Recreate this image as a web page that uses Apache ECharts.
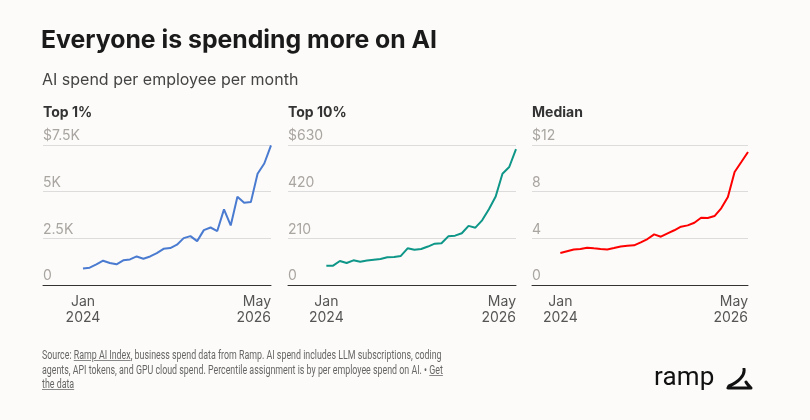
<!DOCTYPE html>
<html>
<head>
<meta charset="utf-8">
<script src="https://cdn.jsdelivr.net/npm/echarts@6/dist/echarts.min.js"></script>
<style>
  html, body { margin: 0; padding: 0; background: #fcfbf9; }
  #chart { width: 810px; height: 420px; position: absolute; left: 0; top: 0; }
  #foot {
    position: absolute; left: 42px; top: 348px; width: 800px;
    font-family: "Roboto", sans-serif;
    font-size: 12px; line-height: 14.5px; color: #666; white-space: nowrap;
    transform: scaleX(0.737); transform-origin: 0 0;
  }
  #foot u { text-decoration-color: #888; }
  #logo {
    position: absolute; left: 654px; top: 361px;
    font-family: "Roboto", sans-serif; font-size: 26px; color: #111;
    letter-spacing: 0.2px;
  }
  #logo svg { position: absolute; left: 71px; top: 7px; }
</style>
</head>
<body>
<div id="chart"></div>
<div id="foot">Source: <u>Ramp AI Index</u>, business spend data from Ramp. AI spend includes LLM subscriptions, coding<br>agents, API tokens, and GPU cloud spend. Percentile assignment is by per employee spend on AI. &bull; <u>Get</u><br><u>the data</u></div>
<div id="logo">ramp<svg width="28" height="22" viewBox="0 0 28 22">
  <path d="M19 1 C20 7 14 14 4 18 L3 20 L26 20 C24 18 22 16 21 14" fill="none" stroke="#111" stroke-width="3" stroke-linecap="round" stroke-linejoin="round"/>
</svg></div>
<script>
'use strict';

// Jan 2024 .. May 2026, one point per month
var months = ['Jan 2024','Feb 2024','Mar 2024','Apr 2024','May 2024','Jun 2024','Jul 2024','Aug 2024',
  'Sep 2024','Oct 2024','Nov 2024','Dec 2024','Jan 2025','Feb 2025','Mar 2025','Apr 2025','May 2025',
  'Jun 2025','Jul 2025','Aug 2025','Sep 2025','Oct 2025','Nov 2025','Dec 2025','Jan 2026','Feb 2026',
  'Mar 2026','Apr 2026','May 2026'];

var top1 = [890, 930, 1100, 1300, 1180, 1110, 1320, 1370, 1530, 1410, 1530, 1710, 1940, 1980, 2160,
  2510, 2620, 2350, 2940, 3080, 2890, 4050, 3190, 4730, 4410, 4440, 5960, 6510, 7480];
var top10 = [87, 87, 108, 99, 111, 105, 110, 114, 117, 125, 126, 131, 165, 159, 162, 173, 186, 188,
  219, 222, 233, 266, 258, 291, 341, 398, 501, 531, 611];
var median = [2.75, 2.9, 3.05, 3.08, 3.2, 3.14, 3.09, 3.05, 3.17, 3.3, 3.37, 3.4, 3.66, 3.94, 4.34,
  4.14, 4.43, 4.69, 5.0, 5.11, 5.34, 5.77, 5.74, 5.91, 6.57, 7.54, 9.69, 10.54, 11.4];

var panelTitles = ['Top 1%', 'Top 10%', 'Median'];
var yTicks = [
  ['0', '2.5K', '5K', '$7.5K'],
  ['0', '210', '420', '$630'],
  ['0', '4', '8', '$12']
];
var yMax = [7500, 630, 12];
var colors = ['#4a7bd0', '#0e9688', '#ff0000'];
var series = [top1, top10, median];

// panel geometry
var grids = [
  { left: 43, width: 228, top: 145, height: 140, xMin: -5.95 },
  { left: 288, width: 228, top: 145, height: 140, xMin: -5.66 },
  { left: 532, width: 216, top: 145, height: 140, xMin: -4.23 }
];

var chart = echarts.init(document.getElementById('chart'), null, { renderer: 'canvas' });

function xLabel(v) {
  var m = months[Math.round(v)];
  if (!m) return '';
  var p = m.split(' ');
  return p[0] + '\n' + p[1];
}

var option = {
  backgroundColor: '#fcfbf9',
  animation: false,
  textStyle: { fontFamily: 'Inter, Roboto, sans-serif' },
  title: [
    { text: 'Everyone is spending more on AI', left: 41, top: 28, padding: 0,
      textStyle: { fontSize: 24.8, fontWeight: 'bold', color: '#1a1a1a', fontFamily: 'Inter' } },
    { text: 'AI spend per employee per month', left: 42, top: 72, padding: 0,
      textStyle: { fontSize: 16, fontWeight: 'normal', color: '#444', fontFamily: 'Inter' } }
  ].concat(panelTitles.map(function (t, i) {
    return { text: t, left: grids[i].left, top: 106, padding: 0,
      textStyle: { fontSize: 14, fontWeight: 'bold', color: '#333', fontFamily: 'Inter' } };
  })),
  grid: grids.map(function (g) {
    return { left: g.left, width: g.width, top: g.top, height: g.height, containLabel: false };
  }),
  xAxis: grids.map(function (g, i) {
    return {
      type: 'value', gridIndex: i, min: g.xMin, max: months.length - 1,
      axisLine: { show: true, onZero: false, lineStyle: { color: '#333', width: 1 } },
      axisTick: { show: false },
      splitLine: { show: false },
      axisLabel: {
        customValues: [0, months.length - 1],
        formatter: xLabel,
        color: '#555', fontSize: 14, lineHeight: 16, margin: 9,
        alignMaxLabel: 'right', fontFamily: 'Inter'
      }
    };
  }),
  yAxis: grids.map(function (g, i) {
    return {
      type: 'value', gridIndex: i, min: 0, max: yMax[i], interval: yMax[i] / 3,
      axisLine: { show: false }, axisTick: { show: false },
      splitLine: { lineStyle: { color: '#dcdcdc', width: 1 } },
      axisLabel: {
        inside: true, margin: 0, align: 'left', verticalAlign: 'bottom',
        padding: [0, 0, 2, 0],
        color: '#a9a5a1', fontSize: 14, fontFamily: 'Inter',
        formatter: function (v) {
          var k = Math.round(v / (yMax[i] / 3));
          return yTicks[i][k];
        }
      }
    };
  }),
  series: series.map(function (vals, i) {
    return {
      type: 'line', xAxisIndex: i, yAxisIndex: i,
      data: vals.map(function (v, j) { return [j, v]; }),
      showSymbol: false, smooth: false,
      lineStyle: { color: colors[i], width: 2 },
      itemStyle: { color: colors[i] }
    };
  })
};

chart.setOption(option);
</script>
</body>
</html>
